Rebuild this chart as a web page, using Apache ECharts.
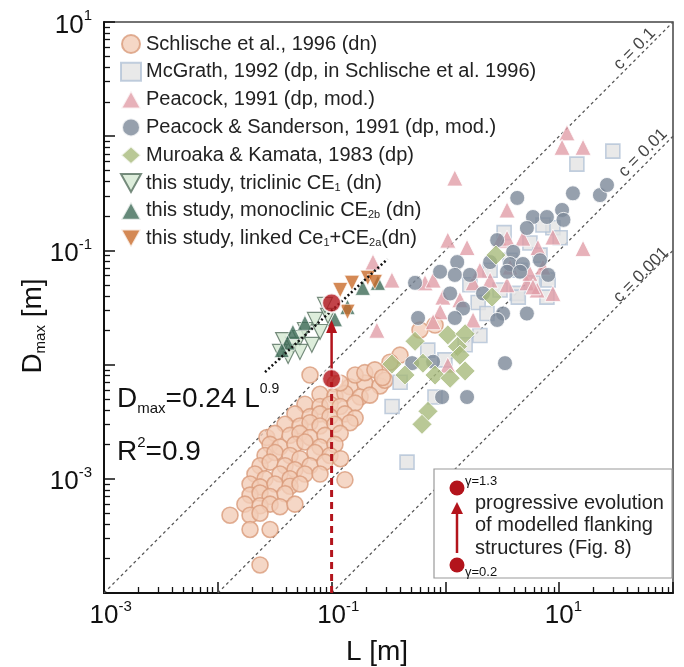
<!DOCTYPE html>
<html>
<head>
<meta charset="utf-8">
<script src="https://cdn.jsdelivr.net/npm/echarts@6/dist/echarts.min.js"></script>
<style>
html, body { margin: 0; padding: 0; background: #fff; }
#chart { width: 684px; height: 667px; }
</style>
</head>
<body>
<div id="chart"></div>
<script>
const FONT = '"Liberation Sans", Arial, sans-serif';
const RED = '#b3141c';

// L [m], Dmax [m]
const schlische = [
    [0.107, 0.0068], [0.145, 0.0064], [0.196, 0.0069], [0.266, 0.0065],
    [0.0791, 0.0055], [0.107, 0.0053], [0.131, 0.0056], [0.178, 0.0052], [0.217, 0.0054],
    [0.0583, 0.0045], [0.0791, 0.0043], [0.0968, 0.0045], [0.119, 0.0043], [0.161, 0.0046],
    [0.0476, 0.0037], [0.0646, 0.0035], [0.0791, 0.0037], [0.0968, 0.0035], [0.131, 0.0037], [0.161, 0.0034],
    [0.039, 0.0030], [0.0527, 0.0029], [0.0646, 0.0031], [0.0791, 0.0029], [0.107, 0.0030], [0.145, 0.0031],
    [0.027, 0.0023], [0.0318, 0.0025], [0.0431, 0.0024], [0.0527, 0.0025], [0.0646, 0.0023], [0.0875, 0.0024], [0.119, 0.0025],
    [0.0288, 0.0020], [0.0352, 0.0019], [0.0476, 0.0020], [0.0583, 0.0021], [0.0791, 0.0019], [0.107, 0.0020],
    [0.026, 0.0016], [0.0318, 0.0017], [0.0431, 0.0016], [0.0527, 0.0015], [0.0714, 0.0017], [0.0968, 0.0016], [0.12, 0.0015],
    [0.0235, 0.0013], [0.0288, 0.0014], [0.039, 0.0013], [0.0476, 0.0012], [0.0646, 0.0013], [0.0875, 0.0014],
    [0.0212, 0.0011], [0.026, 0.0010], [0.0352, 0.0011], [0.0431, 0.0010], [0.0583, 0.0011], [0.0791, 0.0011],
    [0.0192, 0.0009], [0.0235, 0.00085], [0.0318, 0.0009], [0.0431, 0.00086], [0.0527, 0.0009],
    [0.0192, 0.00072], [0.0235, 0.00075], [0.0288, 0.0007], [0.039, 0.00074],
    [0.0173, 0.0006], [0.0235, 0.00058], [0.0288, 0.0006], [0.0352, 0.00057], [0.0476, 0.0006],
    [0.0192, 0.00048], [0.0235, 0.0005],
    [0.0128, 0.00048], [0.0192, 0.00036], [0.0288, 0.00036], [0.0235, 0.000176], [0.131, 0.00098],
    [0.0646, 0.0081], [0.161, 0.0081], [0.196, 0.0085], [0.240, 0.0090], [0.294, 0.0073],
    [0.399, 0.0121], [0.326, 0.0105], [0.598, 0.0201], [0.811, 0.0222], [0.28, 0.0077], [0.119, 0.0069]
];
const mcgrath = [
    [14.3, 0.57], [29.6, 0.74], [3.28, 0.143], [5.53, 0.116], [8.8, 0.158], [10.2, 0.129], [7.2, 0.167],
    [6.78, 0.091], [3.7, 0.082], [4.53, 0.067], [8.0, 0.055], [4.28, 0.042], [7.8, 0.039], [5.88, 0.052],
    [1.94, 0.035], [2.32, 0.028], [4.37, 0.039], [2.01, 0.018], [0.70, 0.0134], [0.81, 0.0052],
    [0.40, 0.0070], [0.34, 0.0043], [0.46, 0.0014], [0.99, 0.011], [1.49, 0.0149], [3.02, 0.045],
    [2.47, 0.067], [1.64, 0.050]
];
const peacock = [
    [11.7, 1.07], [10.6, 0.80], [16.2, 0.80], [1.21, 0.43], [3.48, 0.226], [1.05, 0.123], [1.55, 0.106],
    [3.02, 0.123], [3.48, 0.128], [4.8, 0.128], [6.5, 0.106], [8.8, 0.131], [16.2, 0.104], [0.231, 0.079],
    [0.339, 0.055], [0.250, 0.020], [0.662, 0.052], [0.78, 0.055], [0.95, 0.039], [0.90, 0.029],
    [0.78, 0.0237], [1.75, 0.052], [2.47, 0.055], [3.48, 0.050], [5.2, 0.052], [6.4, 0.045], [8.8, 0.042],
    [1.75, 0.0246], [1.05, 0.0099], [3.7, 0.0715], [5.53, 0.063], [7.2, 0.0715], [5.88, 0.048],
    [2.01, 0.067], [1.34, 0.037]
];
const sanderson = [
    [4.28, 0.288], [13.2, 0.316], [22.8, 0.305], [26.3, 0.374], [5.88, 0.196], [7.8, 0.196], [10.6, 0.226],
    [10.9, 0.185], [5.2, 0.157], [2.85, 0.123], [3.94, 0.097], [1.27, 0.079], [3.7, 0.076], [4.8, 0.076],
    [6.78, 0.082], [8.0, 0.061], [3.48, 0.065], [4.53, 0.065], [0.541, 0.052], [0.898, 0.065], [1.21, 0.061],
    [1.64, 0.061], [2.14, 0.042], [1.10, 0.042], [1.43, 0.031], [1.21, 0.0256], [0.575, 0.0256], [3.21, 0.028],
    [2.85, 0.0246], [5.2, 0.028], [3.34, 0.0103], [0.935, 0.0052], [1.55, 0.0052], [0.51, 0.0103],
    [0.78, 0.0106], [2.47, 0.079]
];
const muroaka = [
    [2.78, 0.091], [2.57, 0.039], [1.05, 0.0182], [1.49, 0.0186], [1.28, 0.0144], [0.541, 0.016],
    [0.339, 0.0101], [0.441, 0.0081], [0.635, 0.0103], [0.811, 0.0081], [1.10, 0.0076], [1.49, 0.0088],
    [0.703, 0.0039], [0.623, 0.0030], [1.34, 0.0121]
];
const triclinic = [
    [0.093, 0.0267], [0.0714, 0.0246], [0.0791, 0.0193], [0.0583, 0.0201], [0.0527, 0.0171], [0.067, 0.0149],
    [0.0457, 0.0149], [0.0415, 0.0119], [0.0352, 0.0129], [0.0527, 0.0129], [0.0875, 0.0333], [0.0375, 0.0164]
];
const monoclinic = [
    [0.188, 0.047], [0.138, 0.032], [0.255, 0.052], [0.0583, 0.0232], [0.0457, 0.0193], [0.041, 0.0156],
    [0.0365, 0.0134], [0.107, 0.025]
];
const linked = [[0.119, 0.045], [0.151, 0.052], [0.208, 0.0575], [0.138, 0.029], [0.240, 0.053]];

const regression = [[0.026, 0.0086], [0.31, 0.084]];
const redModel = [[0.1, 0.0347], [0.1, 0.0075]];
const redDrop = [[0.1, 0.0001], [0.1, 0.0075]];
const redArrow = [[0.1, 0.0079], [0.1, 0.0216]];

const cLines = [
    { name: 'c = 0.1', data: [[0.001, 0.0001], [100, 10]], label: [46, 5.8] },
    { name: 'c = 0.01', data: [[0.01, 0.0001], [100, 1]], label: [54.5, 0.713] },
    { name: 'c = 0.001', data: [[0.1, 0.0001], [100, 0.1]], label: [52.4, 0.061] }
];

const seriesNames = [
    'Schlische et al., 1996 (dn)',
    'McGrath, 1992 (dp, in Schlische et al. 1996)',
    'Peacock, 1991 (dp, mod.)',
    'Peacock & Sanderson, 1991 (dp, mod.)',
    'Muroaka & Kamata, 1983 (dp)',
    'this study, triclinic CE1 (dn)',
    'this study, monoclinic CE2b (dn)',
    'this study, linked Ce1+CE2a(dn)'
];
const legendLabels = {
    'this study, triclinic CE1 (dn)': 'this study, triclinic CE{sub|1} (dn)',
    'this study, monoclinic CE2b (dn)': 'this study, monoclinic CE{sub|2b} (dn)',
    'this study, linked Ce1+CE2a(dn)': 'this study, linked Ce{sub|1}+CE{sub|2a}(dn)'
};
const DOWN_TRIANGLE = 'path://M0,0L20,0L10,18Z';

// axis extent and log minor tick values (2..9 in each decade)
const X_MIN = 0.001, X_MAX = 100, Y_MIN = 0.0001, Y_MAX = 10;
const minorX = [
    0.002, 0.003, 0.004, 0.005, 0.006, 0.007, 0.008, 0.009,
    0.02, 0.03, 0.04, 0.05, 0.06, 0.07, 0.08, 0.09,
    0.2, 0.3, 0.4, 0.5, 0.6, 0.7, 0.8, 0.9,
    2, 3, 4, 5, 6, 7, 8, 9,
    20, 30, 40, 50, 60, 70, 80, 90
];
const minorY = [
    0.0002, 0.0003, 0.0004, 0.0005, 0.0006, 0.0007, 0.0008, 0.0009,
    0.002, 0.003, 0.004, 0.005, 0.006, 0.007, 0.008, 0.009,
    0.02, 0.03, 0.04, 0.05, 0.06, 0.07, 0.08, 0.09,
    0.2, 0.3, 0.4, 0.5, 0.6, 0.7, 0.8, 0.9,
    2, 3, 4, 5, 6, 7, 8, 9
];

const chart = echarts.init(document.getElementById('chart'));

const tickRich = {
    g: { fontSize: 15, fontFamily: FONT, color: 'transparent', verticalAlign: 'top', lineHeight: 15 },
    b: { fontSize: 26, fontFamily: FONT, color: '#111', lineHeight: 34 },
    s: { fontSize: 15, fontFamily: FONT, color: '#111', verticalAlign: 'top', lineHeight: 15 }
};
const expOf = (v) => Math.round(Math.log10(v));

const mainAxis = (position, min, max, labelFormatter, labelExtra) => ({
    type: 'log',
    position: position,
    min: min,
    max: max,
    interval: 1,
    axisLine: { lineStyle: { color: '#111', width: 2 } },
    axisTick: { inside: true, length: 11, lineStyle: { color: '#111', width: 1.5 } },
    splitLine: { show: false },
    axisLabel: Object.assign({ formatter: labelFormatter, rich: tickRich }, labelExtra)
});
const minorAxis = (position, min, max, values) => ({
    type: 'log',
    position: position,
    min: min,
    max: max,
    axisLine: { show: false },
    axisLabel: { show: false },
    splitLine: { show: false },
    axisTick: { inside: true, length: 6, customValues: values, lineStyle: { color: '#111', width: 1.3 } }
});

const scatter = (name, data, symbol, size, itemStyle, extra) => Object.assign({
    name: name,
    type: 'scatter',
    data: data,
    symbol: symbol,
    symbolSize: size,
    itemStyle: itemStyle,
    silent: true
}, extra || {});

const plainLine = (data, lineStyle, z) => ({
    type: 'line',
    data: data,
    symbol: 'none',
    lineStyle: lineStyle,
    silent: true,
    z: z
});

const txt = (x, y, text, size, extra, rotation) => ({
    type: 'text',
    x: x,
    y: y,
    z: 60,
    rotation: rotation || 0,
    style: Object.assign({
        text: text,
        fontSize: size,
        fontFamily: FONT,
        fill: '#111',
        align: 'left',
        verticalAlign: 'middle',
        textAlign: 'left',
        textVerticalAlign: 'middle'
    }, extra || {})
});

const option = {
    animation: false,
    grid: { left: 104, right: 11, top: 22, bottom: 74, show: true, borderColor: '#444', borderWidth: 1.5 },
    xAxis: [
        mainAxis('bottom', X_MIN, X_MAX, (v) => {
            const e = expOf(v);
            return e % 2 === 0 ? '' : `{g|${e}}{b|10}{s|${e}}`;
        }, { margin: 6 }),
        minorAxis('bottom', X_MIN, X_MAX, minorX)
    ],
    yAxis: [
        mainAxis('left', Y_MIN, Y_MAX, (v) => {
            const e = expOf(v);
            return e % 2 === 0 ? '' : `{b|10}{s|${e}}`;
        }, { margin: 12, padding: [7, 0, 0, 0] }),
        minorAxis('left', Y_MIN, Y_MAX, minorY)
    ],
    legend: {
        data: seriesNames.map((n, i) => (i === 5 || i === 7 ? { name: n, icon: DOWN_TRIANGLE } : { name: n })),
        orient: 'vertical',
        left: 115,
        top: 29,
        itemWidth: 20,
        itemHeight: 18,
        itemGap: 7.8,
        selectedMode: false,
        formatter: (n) => legendLabels[n] || n,
        textStyle: {
            fontSize: 20,
            fontFamily: FONT,
            color: '#222',
            lineHeight: 20,
            rich: {
                sub: { fontSize: 11, fontFamily: FONT, color: '#222', verticalAlign: 'bottom', lineHeight: 12 }
            }
        }
    },
    series: [
        ...cLines.map((c) => plainLine(c.data, { color: '#555', width: 1.3, type: [3, 3] }, 1)),
        {
            type: 'scatter',
            data: cLines.map((c) => ({ name: c.name, value: c.label })),
            symbolSize: 1,
            itemStyle: { color: 'transparent' },
            silent: true,
            label: {
                show: true,
                position: 'inside',
                rotate: 45,
                formatter: '{b}',
                fontSize: 17,
                fontFamily: FONT,
                color: '#111'
            },
            z: 1
        },
        scatter(seriesNames[0], schlische, 'circle', 16,
            { color: '#f2cdb8', borderColor: '#d99b7a', borderWidth: 1.6 }),
        scatter(seriesNames[1], mcgrath, 'rect', 14,
            { color: '#e3e3e3', borderColor: '#b3c3d7', borderWidth: 1.6 }),
        scatter(seriesNames[2], peacock, 'triangle', 16,
            { color: '#e19ea7', borderColor: '#fff', borderWidth: 1 }),
        scatter(seriesNames[3], sanderson, 'circle', 15,
            { color: '#7c8898', borderColor: '#fff', borderWidth: 1 }),
        scatter(seriesNames[4], muroaka, 'diamond', 20,
            { color: '#a7ba7c', borderColor: '#fff', borderWidth: 1 }),
        scatter(seriesNames[5], triclinic, 'triangle', 15,
            { color: '#d5e9d2', borderColor: '#56705f', borderWidth: 1.2 }, { symbolRotate: 180 }),
        scatter(seriesNames[6], monoclinic, 'triangle', 15,
            { color: '#3e6b57', borderColor: '#fff', borderWidth: 0.8 }),
        scatter(seriesNames[7], linked, 'triangle', 15,
            { color: '#c96b2b', borderColor: '#fff', borderWidth: 0.8 }, { symbolRotate: 180 }),
        plainLine(regression, { color: '#111', width: 2.5, type: [2, 2.5] }, 3),
        plainLine(redDrop, { color: RED, width: 3, type: [7, 5] }, 3),
        {
            type: 'line',
            data: [redArrow[0], { value: redArrow[1], symbol: 'triangle', symbolSize: [11, 13] }],
            symbol: 'none',
            showSymbol: true,
            itemStyle: { color: RED },
            lineStyle: { color: RED, width: 2.5 },
            silent: true,
            z: 4
        },
        {
            type: 'scatter',
            data: redModel,
            symbolSize: 19,
            itemStyle: { color: RED, borderColor: '#fff', borderWidth: 2 },
            silent: true,
            z: 5
        }
    ],
    graphic: [
        txt(33, 326, '{a|D}{m|max}{a| [m]}', 28, {
            align: 'center', textAlign: 'center',
            rich: {
                a: { fontSize: 28, fontFamily: FONT, color: '#111', lineHeight: 30 },
                m: { fontSize: 15, fontFamily: FONT, color: '#111', verticalAlign: 'bottom', lineHeight: 14 }
            }
        }, Math.PI / 2),
        txt(377, 652, 'L [m]', 28, { align: 'center', textAlign: 'center' }),
        txt(117, 399, '{a|D}{m|max}{a|=0.24 L}{p|0.9}', 28, {
            rich: {
                a: { fontSize: 28, fontFamily: FONT, color: '#111', lineHeight: 34 },
                m: { fontSize: 15, fontFamily: FONT, color: '#111', verticalAlign: 'bottom', lineHeight: 14 },
                p: { fontSize: 14, fontFamily: FONT, color: '#111', verticalAlign: 'top', lineHeight: 14 }
            }
        }),
        txt(117, 452, '{a|R}{p|2}{a|=0.9}', 28, {
            rich: {
                a: { fontSize: 28, fontFamily: FONT, color: '#111', lineHeight: 34 },
                p: { fontSize: 15, fontFamily: FONT, color: '#111', verticalAlign: 'top', lineHeight: 15 }
            }
        }),
        // inset key
        { type: 'rect', z: 55, shape: { x: 434, y: 469, width: 238, height: 109 }, style: { fill: '#fff', stroke: '#9a9a9a', lineWidth: 1.2 } },
        { type: 'circle', z: 56, shape: { cx: 457, cy: 488, r: 7.5 }, style: { fill: RED } },
        { type: 'circle', z: 56, shape: { cx: 457, cy: 565, r: 7.5 }, style: { fill: RED } },
        { type: 'line', z: 56, shape: { x1: 457, y1: 553, x2: 457, y2: 512 }, style: { stroke: RED, lineWidth: 2.5 } },
        { type: 'polygon', z: 56, shape: { points: [[451, 514], [463, 514], [457, 502]] }, style: { fill: RED } },
        txt(465, 481, 'γ=1.3', 13),
        txt(465, 572, 'γ=0.2', 13),
        txt(475, 503, 'progressive evolution', 20, { fill: '#222' }),
        txt(475, 525, 'of modelled flanking', 20, { fill: '#222' }),
        txt(475, 548, 'structures (Fig. 8)', 20, { fill: '#222' })
    ]
};

chart.setOption(option);
</script>
</body>
</html>
